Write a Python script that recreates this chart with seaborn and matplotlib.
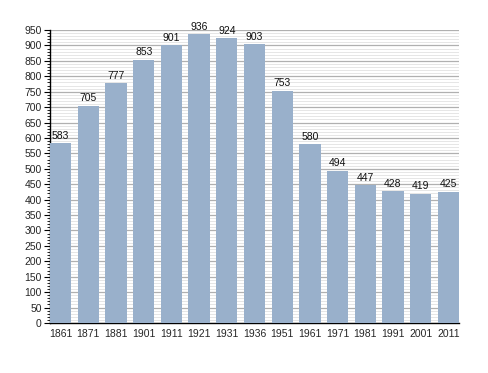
import matplotlib
matplotlib.use("Agg")
import matplotlib.pyplot as plt
import seaborn as sns
import pandas as pd
from matplotlib.ticker import MultipleLocator

years = ["1861", "1871", "1881", "1901", "1911", "1921", "1931", "1936",
         "1951", "1961", "1971", "1981", "1991", "2001", "2011"]
population = [583, 705, 777, 853, 901, 936, 924, 903, 753, 580, 494, 447, 428, 419, 425]

df = pd.DataFrame({"year": years, "pop": population})

sns.set_style("white")
plt.rcParams['font.family'] = ['Liberation Sans', 'DejaVu Sans']

fig = plt.figure(figsize=(4.88, 3.73), dpi=100)
ax = fig.add_axes([50/488, 1-323/373, (459-50)/488, (323-30)/373])

sns.barplot(data=df, x="year", y="pop", color="#99b0cb", saturation=1,
            width=0.77, ax=ax, zorder=3, edgecolor="none", linewidth=0)

ax.set_ylim(0, 950)
ax.set_xlim(-0.385, 14.385)
ax.yaxis.set_major_locator(MultipleLocator(50))
ax.yaxis.set_minor_locator(MultipleLocator(10))
ax.grid(which="major", axis="y", color="#b0b0b0", linewidth=0.9, zorder=0)
ax.grid(which="minor", axis="y", color="#e6e6e6", linewidth=0.7, zorder=0)
ax.set_axisbelow(True)

for s in ["top", "right"]:
    ax.spines[s].set_visible(False)
for s in ["left", "bottom"]:
    ax.spines[s].set_color("black")
    ax.spines[s].set_linewidth(1.0)

ax.tick_params(axis="y", which="major", direction="out", length=4, width=0.8,
               color="black", labelsize=7.5, pad=2, left=True)
ax.tick_params(axis="y", which="minor", direction="out", length=2, width=0.6,
               color="black", left=True)
ax.tick_params(axis="x", length=0, labelsize=7.5, pad=4)
ax.set_xlabel("")
ax.set_ylabel("")

for i, v in enumerate(population):
    ax.text(i, v + 8, str(v), ha="center", va="bottom", fontsize=7.5, color="#111111", zorder=5)

fig.savefig("out.png", dpi=100)
